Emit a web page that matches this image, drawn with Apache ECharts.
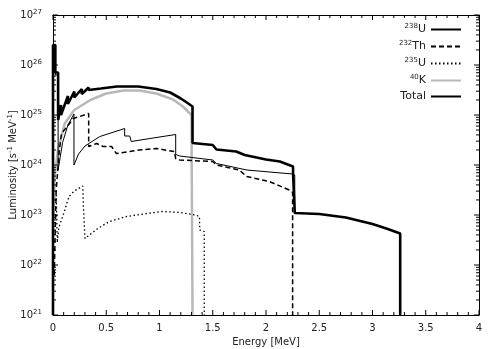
<!DOCTYPE html>
<html>
<head>
<meta charset="utf-8">
<script src="https://cdn.jsdelivr.net/npm/echarts@6/dist/echarts.min.js"></script>
<style>
html, body { margin: 0; padding: 0; background: #fff; }
#main { width: 498px; height: 349px; }
</style>
</head>
<body>
<div id="main"></div>
<script>
// energy [MeV] , log10 luminosity [s^-1 MeV^-1]
var u238 = [
	[0, 21], [0, 26.35], [0.022, 26.35], [0.022, 25.8], [0.048, 25.8], [0.048, 23.9],
	[0.09, 24.45], [0.14, 24.8], [0.197, 25.02], [0.197, 24.0],
	[0.24, 24.22], [0.3, 24.38], [0.44, 24.57], [0.63, 24.7], [0.673, 24.73], [0.673, 24.58], [0.72, 24.58],
	[0.735, 24.47], [0.91, 24.53], [1.152, 24.61], [1.152, 24.21], [1.19, 24.18],
	[1.5, 24.1], [1.535, 24.03], [1.82, 23.9], [2.25, 23.82], [2.27, 23.8], [2.27, 23.04],
	[2.5, 23.02], [2.75, 22.95], [3.0, 22.82], [3.13, 22.73], [3.26, 22.63], [3.26, 21]
];
var th232 = [
	[0.012, 21.8], [0.02, 22.6], [0.03, 23.5], [0.06, 24.3], [0.08, 24.63], [0.156, 24.83],
	[0.19, 24.93], [0.25, 24.97], [0.335, 25.03], [0.335, 24.37], [0.41, 24.43], [0.47, 24.37],
	[0.55, 24.37], [0.595, 24.23], [0.81, 24.3], [0.97, 24.33], [1.14, 24.27], [1.152, 24.13],
	[1.19, 24.1], [1.5, 24.07], [1.535, 24.0], [1.75, 23.9], [1.816, 23.77], [2.03, 23.67],
	[2.22, 23.5], [2.25, 23.45], [2.25, 21]
];
var u235 = [
	[0.03, 23.4], [0.04, 22.45], [0.055, 22.75], [0.1, 23.03], [0.15, 23.37], [0.2, 23.48],
	[0.28, 23.58], [0.285, 23.2], [0.3, 22.53], [0.42, 22.73], [0.53, 22.87], [0.69, 22.97],
	[0.88, 23.03], [1.03, 23.07], [1.19, 23.05], [1.34, 23.0], [1.375, 22.97], [1.378, 22.7],
	[1.42, 22.67], [1.42, 21]
];
var k40 = [
	[0.005, 23.0], [0.016, 23.77], [0.047, 24.3], [0.11, 24.83], [0.2, 25.1], [0.35, 25.3],
	[0.5, 25.43], [0.66, 25.49], [0.81, 25.49], [0.97, 25.43], [1.127, 25.31], [1.22, 25.17],
	[1.3, 25.0], [1.31, 24.97], [1.31, 21]
];
var total = [
	[0, 21], [0, 26.4], [0.022, 26.4], [0.022, 25.85], [0.048, 25.85], [0.048, 24.9],
	[0.075, 25.2], [0.075, 25.0], [0.14, 25.38], [0.14, 25.22], [0.2, 25.47], [0.2, 25.35],
	[0.27, 25.52], [0.27, 25.42], [0.335, 25.55], [0.335, 25.5], [0.45, 25.53], [0.6, 25.57],
	[0.8, 25.57], [0.97, 25.52], [1.1, 25.45], [1.2, 25.33], [1.25, 25.26], [1.31, 25.17],
	[1.31, 24.44], [1.5, 24.4], [1.535, 24.31], [1.72, 24.27], [1.8, 24.2], [2.0, 24.11],
	[2.13, 24.07], [2.254, 23.97], [2.254, 23.84], [2.27, 23.82], [2.27, 23.04], [2.5, 23.02],
	[2.75, 22.95], [3.0, 22.82], [3.13, 22.73], [3.26, 22.63], [3.26, 21]
];

var legendNames = ['238U', '232Th', '235U', '40K', 'Total'];
var legendLabels = {
	'238U': '{sup|238}U',
	'232Th': '{sup|232}Th',
	'235U': '{sup|235}U',
	'40K': '{sup|40}K',
	'Total': 'Total'
};
var xMajor = [0, 0.5, 1, 1.5, 2, 2.5, 3, 3.5, 4];
var yDecades = [21, 22, 23, 24, 25, 26, 27];

// tick positions, flag 1 = major: 0.1 MeV steps, log 1..9 per decade
var xTicks = [];
for (var i = 0; i <= 40; i++) xTicks.push([i / 10, 21, i % 5 === 0 ? 1 : 0]);
var yTicks = [[0, 27, 1]];
yDecades.slice(0, -1).forEach(function(d) {
	for (var k = 1; k <= 9; k++) yTicks.push([0, d + Math.log10(k), k === 1 ? 1 : 0]);
});

var myChart = echarts.init(document.getElementById('main'));
var font = 'DejaVu Sans';
var supStyle = { fontSize: 7, fontFamily: font, color: '#222', verticalAlign: 'top', padding: [0, 0, 6, 0] };
var tickStyle = { stroke: '#000', lineWidth: 1 };

// inward ticks on both opposite edges, placed through the axes' own scales
function tickSeries(data, isX) {
	return {
		type: 'custom', silent: true, data: data, encode: { x: 0, y: 1 }, z: 6,
		renderItem: function(params, api) {
			var len = api.value(2) ? 5 : 3;
			var a, b;
			if (isX) {
				a = api.coord([api.value(0), 21]);
				b = api.coord([api.value(0), 27]);
				return { type: 'group', children: [
					{ type: 'line', shape: { x1: a[0], y1: a[1], x2: a[0], y2: a[1] - len }, style: tickStyle },
					{ type: 'line', shape: { x1: b[0], y1: b[1], x2: b[0], y2: b[1] + len }, style: tickStyle }
				] };
			}
			a = api.coord([0, api.value(1)]);
			b = api.coord([4, api.value(1)]);
			return { type: 'group', children: [
				{ type: 'line', shape: { x1: a[0], y1: a[1], x2: a[0] + len, y2: a[1] }, style: tickStyle },
				{ type: 'line', shape: { x1: b[0], y1: b[1], x2: b[0] - len, y2: b[1] }, style: tickStyle }
			] };
		}
	};
}

function ax(pos, labels) {
	var isX = pos === 'bottom' || pos === 'top';
	return {
		type: 'value', position: pos,
		min: isX ? 0 : 21, max: isX ? 4 : 27, interval: isX ? 0.5 : 1,
		axisLine: { show: true, onZero: false, lineStyle: { color: '#000', width: 1 } },
		axisTick: { show: false },
		axisLabel: labels || { show: false },
		splitLine: { show: false }
	};
}

var option = {
	animation: false,
	grid: { left: 53, right: 19, top: 15, bottom: 34, outerBoundsMode: 'none' },
	legend: {
		orient: 'vertical', align: 'right', right: 31, top: 18,
		itemWidth: 30, itemHeight: 12, itemGap: 5,
		selectedMode: false,
		itemStyle: { opacity: 0 },
		data: legendNames,
		formatter: function(n) { return legendLabels[n]; },
		textStyle: { fontFamily: font, fontSize: 11, color: '#222', rich: { sup: supStyle } }
	},
	xAxis: [
		Object.assign(ax('bottom', {
			show: true, margin: 8, fontFamily: font, fontSize: 10, color: '#222', customValues: xMajor
		}), {
			name: 'Energy [MeV]', nameLocation: 'middle', nameGap: 22,
			nameTextStyle: { fontFamily: font, fontSize: 10, color: '#222' }
		}),
		ax('top')
	],
	yAxis: [
		Object.assign(ax('left', {
			show: true, margin: 11, fontFamily: font, fontSize: 10, color: '#222', customValues: yDecades,
			formatter: function(v) { return '10{sup|' + v + '}'; },
			rich: { sup: supStyle }
		}), {
			name: 'Luminosity [s{sup|-1} MeV{sup|-1}]', nameLocation: 'middle', nameGap: 33,
			nameMoveOverlap: false,
			nameTextStyle: { fontFamily: font, fontSize: 10, color: '#222', rich: { sup: supStyle } }
		}),
		ax('right')
	],
	series: [
		{ name: '40K', type: 'line', data: k40, showSymbol: false, symbol: 'none',
			lineStyle: { color: '#b8b8b8', width: 2.5 }, itemStyle: { color: '#b8b8b8' } },
		{ name: '235U', type: 'line', data: u235, showSymbol: false, symbol: 'none',
			lineStyle: { color: '#000', width: 1.3, type: [1.5, 2.5] }, itemStyle: { color: '#000' } },
		{ name: '232Th', type: 'line', data: th232, showSymbol: false, symbol: 'none',
			lineStyle: { color: '#000', width: 1.5, type: [5, 3] }, itemStyle: { color: '#000' } },
		{ name: '238U', type: 'line', data: u238, showSymbol: false, symbol: 'none',
			lineStyle: { color: '#000', width: 1 }, itemStyle: { color: '#000' } },
		{ name: 'Total', type: 'line', data: total, showSymbol: false, symbol: 'none',
			lineStyle: { color: '#000', width: 2.6 }, itemStyle: { color: '#000' } },
		tickSeries(xTicks, true),
		tickSeries(yTicks, false)
	]
};
myChart.setOption(option, true);
</script>
</body>
</html>
